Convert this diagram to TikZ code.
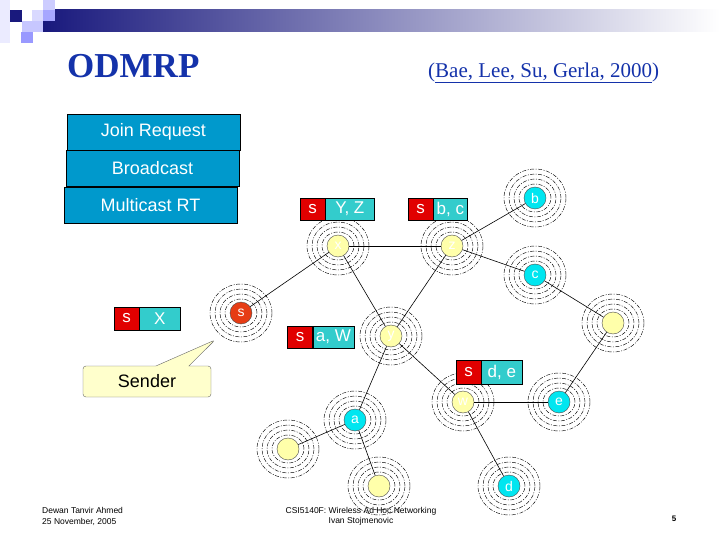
\documentclass[tikz,border=0pt]{standalone}
\usepackage{fontspec}
\setmainfont{Liberation Sans}
\newfontfamily\titlefont{Liberation Serif}
\usetikzlibrary{shapes.callouts}
\newcommand\fsz[1]{\fontsize{#1}{#1}\selectfont}
\definecolor{navy}{RGB}{25,25,125}
\definecolor{titleblue}{RGB}{20,50,170}
\definecolor{boxblue}{RGB}{0,153,204}
\definecolor{keyred}{RGB}{225,0,0}
\definecolor{valteal}{RGB}{51,204,204}
\definecolor{nodecyan}{RGB}{0,230,240}
\definecolor{nodeyellow}{RGB}{255,255,170}
\definecolor{srcred}{RGB}{230,60,20}
\definecolor{calloutyellow}{RGB}{255,255,204}

\begin{document}
\begin{tikzpicture}[x=1pt,y=-1pt,
    host/.style={circle, draw=black!70, minimum size=22pt, inner sep=0pt, text=white, font=\fsz{14}},
    member/.style={host, fill=nodecyan},
    relay/.style={host, fill=nodeyellow},
    wave/.style={dash pattern=on 4pt off 1.5pt on 1pt off 1.5pt, line width=0.45pt},
    keycell/.style={draw, fill=keyred, text=white, minimum width=25pt, minimum height=22pt, inner sep=0pt, font=\fsz{17}},
    valcell/.style={draw, fill=valteal, text=white, minimum height=22pt, inner sep=0pt, anchor=west, font=\fsz{17}},
    msgbox/.style={draw, fill=boxblue, text=white, minimum width=173pt, minimum height=36pt, font=\fsz{18}}]
  \useasboundingbox (0,0) rectangle (720,540);

  % slide header
  \fill[blue!8] (0,0) rectangle (10,43);
  \shade[left color=navy, right color=white] (43,10) rectangle (720,32);
  \fill[navy] (10,10) rectangle (22,22);
  \fill[blue!15] (32,10) rectangle (43,21);
  \fill[blue!20] (43,0) rectangle (55,10);
  \fill[blue!35] (43,10) rectangle (55,21);
  \fill[blue!22] (22,21) rectangle (43,32);
  \fill[blue!40] (21,32) rectangle (33,43);

  \node[font=\titlefont\bfseries\fsz{35}, text=titleblue, anchor=base west, inner sep=0pt] (title) at (67,78) {ODMRP};
  \node[font=\titlefont\fsz{21}, text=titleblue, anchor=base west, inner sep=0pt] (cite) at (428,78) {(\underline{Bae, Lee, Su, Gerla, 2000})};

  % message legend
  \node[msgbox] (join) at (153.5,132) {Join Request};
  \node[msgbox] (bcast) at (152.5,168.5) {Broadcast};
  \node[msgbox] (mrt) at (150.5,205) {Multicast RT};

  % hosts
  \node[host, fill=srcred] (src) at (241,313) {s};
  \node[relay] (nx) at (338,246) {x};
  \node[relay] (nz) at (452,246) {z};
  \node[relay] (ny) at (391,336) {y};
  \node[relay] (nw) at (463,402) {w};
  \node[relay] (nr) at (613,323) {};
  \node[relay] (nl) at (288,449) {};
  \node[relay] (nm) at (379,486) {};
  \node[member] (nb) at (535,198) {b};
  \node[member] (nc) at (535,275) {c};
  \node[member] (ne) at (559,402) {e};
  \node[member] (na) at (355,420) {a};
  \node[member] (nd) at (509,486) {d};

  % radio range
  \foreach \n in {src,nx,nz,ny,nw,nr,nl,nm,nb,nc,ne,na,nd}
    \foreach \rx/\ry in {16/14,21/19,26/24,31/29}
      \draw[wave] (\n) ellipse [x radius=\rx pt, y radius=\ry pt];

  % links
  \foreach \a/\b in {src/nx, nx/nz, nx/ny, nz/ny, nz/nb, nz/nc, nc/nr, nr/ne,
                     ne/nw, ny/nw, ny/na, na/nl, na/nm, nw/nd}
    \draw[line width=0.6pt] (\a) -- (\b);

  % routing tables
  \node[keycell, minimum height=23pt] (kx) at (126.5,318.5) {s};
  \node[valcell, minimum width=41pt, minimum height=23pt] (vx) at (kx.east) {X};
  \node[keycell] (kyz) at (312.5,209) {s};
  \node[valcell, minimum width=49pt] (vyz) at (kyz.east) {Y, Z};
  \node[keycell] (kbc) at (420.5,209) {s};
  \node[valcell, minimum width=34pt] (vbc) at (kbc.east) {b, c};
  \node[keycell] (kaw) at (300,337) {s};
  \node[valcell, minimum width=41pt] (vaw) at (kaw.east) {a, W};
  \node[keycell, minimum height=24pt] (kde) at (468.5,372) {s};
  \node[valcell, minimum width=41pt, minimum height=24pt] (vde) at (kde.east) {d, e};

  % callout
  \coordinate (tip) at (215,340);
  \node[rectangle callout, draw=black!60, fill=calloutyellow, rounded corners=3pt,
        minimum width=128pt, minimum height=31pt, callout absolute pointer={(tip)},
        callout pointer width=33pt, font=\fsz{18}] (sender) at (147,381.5) {Sender};

  % footer
  \node[font=\fsz{8.5}, anchor=base west, inner sep=0pt] (auth) at (42,513) {Dewan Tanvir Ahmed};
  \node[font=\fsz{8.5}, anchor=base west, inner sep=0pt] (date) at (42,524) {25 November, 2005};
  \node[font=\fsz{8.5}, anchor=base, inner sep=0pt] (course) at (361,513) {CSI5140F: Wireless Ad Hoc Networking};
  \node[font=\fsz{8.5}, anchor=base, inner sep=0pt] (prof) at (361,523) {Ivan Stojmenovic};
  \node[font=\fsz{8}\bfseries, anchor=base, inner sep=0pt] (page) at (674,521) {5};
\end{tikzpicture}
\end{document}
